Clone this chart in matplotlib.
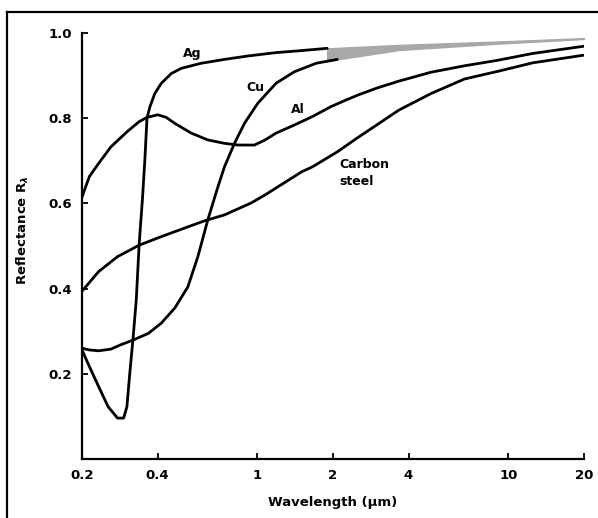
import numpy as np
import matplotlib.pyplot as plt
from matplotlib.lines import Line2D

# wavelength (um) and reflectance
ag_wl = [0.2, 0.214, 0.233, 0.254, 0.277, 0.293, 0.302, 0.310, 0.319, 0.329, 0.338,
         0.348, 0.356, 0.363, 0.373, 0.390, 0.414, 0.454, 0.497, 0.597, 0.739, 0.915,
         1.186, 1.45, 1.896, 3.66, 9.07, 20.0]
ag_r = [0.256, 0.217, 0.170, 0.123, 0.096, 0.096, 0.123, 0.201, 0.279, 0.373, 0.506,
        0.608, 0.702, 0.800, 0.827, 0.858, 0.882, 0.905, 0.917, 0.929, 0.938, 0.946,
        0.954, 0.958, 0.964, 0.972, 0.980, 0.988]

cu_wl = [0.2, 0.214, 0.233, 0.261, 0.285, 0.319, 0.368, 0.414, 0.468, 0.528, 0.579,
         0.634, 0.69, 0.739, 0.810, 0.888, 1.003, 1.186, 1.403, 1.715, 2.08, 3.66, 9.07, 20.0]
cu_r = [0.260, 0.256, 0.254, 0.258, 0.268, 0.279, 0.295, 0.319, 0.354, 0.404, 0.475,
        0.561, 0.632, 0.686, 0.741, 0.788, 0.835, 0.882, 0.909, 0.929, 0.938, 0.960,
        0.975, 0.986]

al_wl = [0.2, 0.214, 0.233, 0.261, 0.302, 0.338, 0.363, 0.401, 0.433, 0.468, 0.545,
         0.634, 0.739, 0.835, 0.973, 1.073, 1.186, 1.403, 1.658, 1.96, 2.26, 2.53, 3.0,
         3.66, 4.92, 6.68, 9.07, 12.5, 20.0]
al_r = [0.615, 0.663, 0.694, 0.733, 0.768, 0.792, 0.802, 0.808, 0.802, 0.788, 0.765,
        0.749, 0.741, 0.737, 0.737, 0.749, 0.765, 0.784, 0.804, 0.827, 0.843, 0.855,
        0.871, 0.887, 0.908, 0.923, 0.936, 0.952, 0.969]

steel_wl = [0.2, 0.233, 0.277, 0.338, 0.414, 0.512, 0.615, 0.739, 0.944, 1.073, 1.499,
            1.658, 2.08, 2.49, 3.66, 4.92, 6.68, 9.07, 12.5, 20.0]
steel_r = [0.394, 0.440, 0.475, 0.502, 0.522, 0.542, 0.559, 0.573, 0.601, 0.620, 0.674,
           0.686, 0.721, 0.753, 0.819, 0.858, 0.892, 0.910, 0.930, 0.948]

xticks = [0.2, 0.4, 1, 2, 4, 10, 20]
xticklabels = ['0.2', '0.4', '1', '2', '4', '10', '20']
yticks = [0.2, 0.4, 0.6, 0.8, 1.0]
yticklabels = ['0.2', '0.4', '0.6', '0.8', '1.0']

plt.rcParams['font.family'] = ['DejaVu Sans']
plt.rcParams['font.weight'] = 'bold'

fig = plt.figure(figsize=(5.98, 5.18), dpi=100)
ax = fig.add_axes([82/598, 59/518, 502/598, 426/518])

ag_wl = np.array(ag_wl); ag_r = np.array(ag_r)
cu_wl = np.array(cu_wl); cu_r = np.array(cu_r)

line = dict(color='black', lw=2.0, solid_joinstyle='round', solid_capstyle='round')
m = ag_wl <= 1.9
ax.plot(ag_wl[m], ag_r[m], **line)
m = cu_wl <= 2.1
ax.plot(cu_wl[m], cu_r[m], **line)
ax.plot(al_wl, al_r, **line)
ax.plot(steel_wl, steel_r, **line)

# grey wedge where Ag and Cu run together at long wavelengths
grid = np.logspace(np.log10(1.896), np.log10(20), 200)
top = np.interp(np.log10(grid), np.log10(ag_wl), ag_r)
bot = np.interp(np.log10(grid), np.log10(cu_wl), cu_r)
bot = np.minimum(bot, top)
ax.fill_between(grid, bot, top, color='#a8a8a8', lw=1.0, edgecolor='#a8a8a8')

# curve labels
lab = dict(fontsize=9, fontweight='bold', color='black', va='baseline')
ax.text(0.549, 0.944, 'Ag', ha='center', **lab)
ax.text(0.978, 0.864, 'Cu', ha='center', **lab)
ax.text(1.445, 0.812, 'Al', ha='center', **lab)
ax.text(2.13, 0.683, 'Carbon', ha='left', **lab)
ax.text(2.13, 0.643, 'steel', ha='left', **lab)

ax.set_xscale('log')
ax.set_xlim(0.2, 20)
ax.set_ylim(0, 1.0)
ax.set_xticks(xticks)
ax.set_xticklabels(xticklabels)
ax.xaxis.set_minor_locator(plt.NullLocator())
ax.set_yticks(yticks)
ax.set_yticklabels(yticklabels)
ax.tick_params(direction='in', length=4, width=1.3, labelsize=9.5, pad=7)
for s in ['top', 'right']:
    ax.spines[s].set_visible(False)
for s in ['left', 'bottom']:
    ax.spines[s].set_linewidth(1.6)

ax.set_xlabel('Wavelength (μm)', fontsize=9.5, fontweight='bold')
ax.xaxis.set_label_coords(0.5, -0.088)
ax.set_ylabel('Reflectance R$_\\lambda$', fontsize=9.5, fontweight='bold')
ax.yaxis.set_label_coords(-0.102, 0.538)

# scan frame on the left and top edges
fig.add_artist(Line2D([7/598, 7/598], [0, 1 - 12/518], transform=fig.transFigure,
                      color='black', lw=1.6))
fig.add_artist(Line2D([7/598, 1], [1 - 12/518, 1 - 12/518], transform=fig.transFigure,
                      color='black', lw=1.6))

fig.savefig('out.png', dpi=100, facecolor='white')
